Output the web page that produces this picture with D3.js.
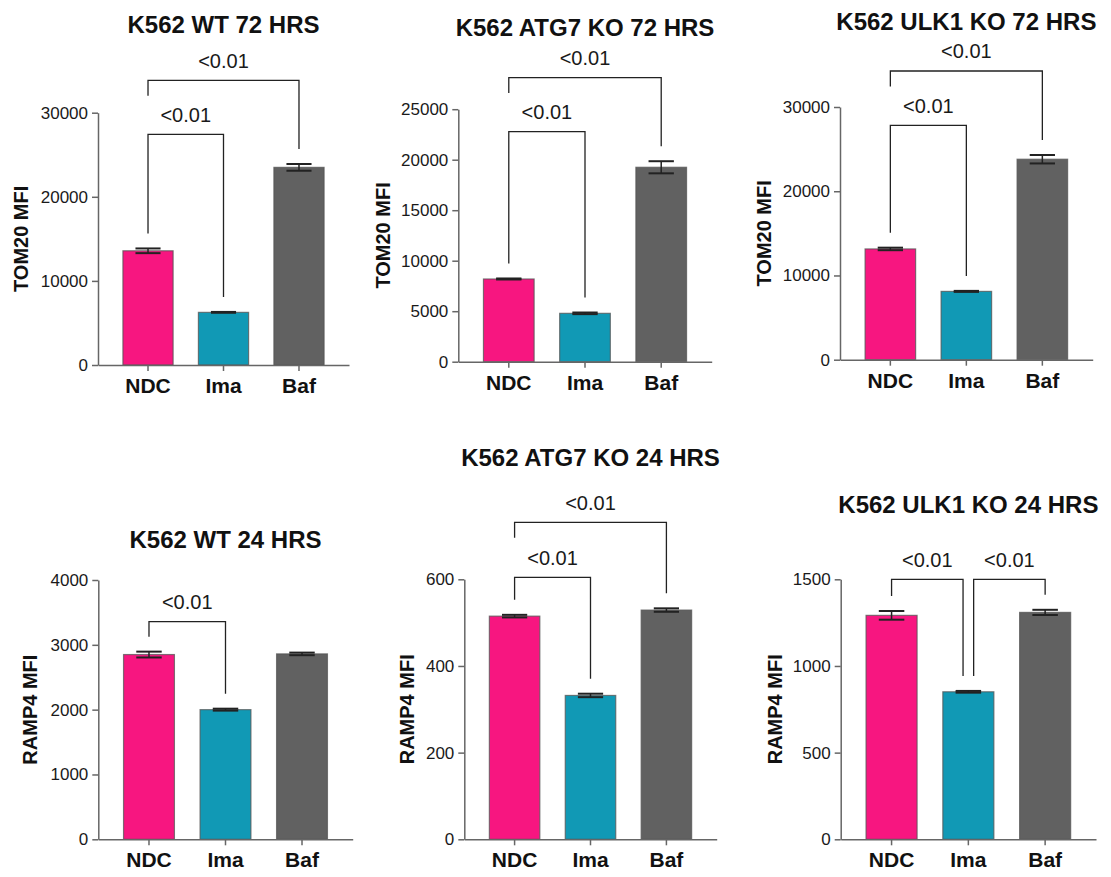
<!DOCTYPE html>
<html>
<head>
<meta charset="utf-8">
<script src="https://cdn.jsdelivr.net/npm/d3@7"></script>
<style>
  html, body { margin: 0; padding: 0; background: #fff; }
  svg { display: block; font-family: "Liberation Sans", Arial, Helvetica, sans-serif; }
</style>
</head>
<body>
<svg id="chart" width="1111" height="877"></svg>
<script>
// ---------------- DATA ----------------
const categories = ["NDC", "Ima", "Baf"];
const panelTitles = [
  "K562 WT 72 HRS", "K562 ATG7 KO 72 HRS", "K562 ULK1 KO 72 HRS",
  "K562 WT 24 HRS", "K562 ATG7 KO 24 HRS", "K562 ULK1 KO 24 HRS"
];
const yAxisLabels = ["TOM20 MFI", "TOM20 MFI", "TOM20 MFI", "RAMP4 MFI", "RAMP4 MFI", "RAMP4 MFI"];
const meanValues = [
  [13580, 6260, 23500],
  [8190, 4790, 19250],
  [13150, 8110, 23800],
  [2850, 2000, 2860],
  [515, 332, 529],
  [1292, 851, 1309]
];
const semValues = [
  [280, 50, 400],
  [50, 80, 600],
  [150, 60, 500],
  [45, 15, 20],
  [3, 4, 4],
  [25, 5, 15]
];
const yMaxValues = [30000, 25000, 30000, 4000, 600, 1500];
const yTickValues = [
  [0, 10000, 20000, 30000],
  [0, 5000, 10000, 15000, 20000, 25000],
  [0, 10000, 20000, 30000],
  [0, 1000, 2000, 3000, 4000],
  [0, 200, 400, 600],
  [0, 500, 1000, 1500]
];
const comparisons = [
  [{ a: 0, b: 1, p: "<0.01" }, { a: 0, b: 2, p: "<0.01" }],
  [{ a: 0, b: 1, p: "<0.01" }, { a: 0, b: 2, p: "<0.01" }],
  [{ a: 0, b: 1, p: "<0.01" }, { a: 0, b: 2, p: "<0.01" }],
  [{ a: 0, b: 1, p: "<0.01" }],
  [{ a: 0, b: 1, p: "<0.01" }, { a: 0, b: 2, p: "<0.01" }],
  [{ a: 0, b: 1, p: "<0.01" }, { a: 1, b: 2, p: "<0.01" }]
];

// ---------------- LAYOUT / STYLE ----------------
const barColors = ["#f71680", "#1199b5", "#616161"];
const layout = [
  { x0: 98,    x1: 349,    yTop: 112.7, yBot: 365,   titleY: 33.3,  ylabOff: 70,   brY: [134.3, 80.3] },
  { x0: 458.3, x1: 711.7,  yTop: 109.2, yBot: 361.7, titleY: 35.7,  ylabOff: 68.3, brY: [131.7, 77.7] },
  { x0: 840,   x1: 1092.7, yTop: 107,   yBot: 359.7, titleY: 30,    ylabOff: 69.3, brY: [125.3, 71] },
  { x0: 98.3,  x1: 352.7,  yTop: 580,   yBot: 839.3, titleY: 548.3, ylabOff: 61,   brY: [621.7] },
  { x0: 464.3, x1: 716.7,  yTop: 579.3, yBot: 839.3, titleY: 466,   ylabOff: 50.3, brY: [577.3, 522.3] },
  { x0: 840.7, x1: 1096,   yTop: 579.3, yBot: 839.3, titleY: 512.7, ylabOff: 59,   brY: [579.3, 579.3] }
];

const svg = d3.select("#chart");
svg.append("rect").attr("width", 1111).attr("height", 877).attr("fill", "#fff");

const axisColor = "#666";
const textColor = "#1a1a1a";

layout.forEach((L, pi) => {
  const g = svg.append("g");
  const x = d3.scaleBand().domain(categories).range([L.x0, L.x1])
    .paddingInner(0.335).paddingOuter(0.33);
  const y = d3.scaleLinear().domain([0, yMaxValues[pi]]).range([L.yBot, L.yTop]);
  const means = meanValues[pi], sems = semValues[pi];

  // bars
  g.selectAll("rect.bar").data(categories).enter().append("rect")
    .attr("class", "bar")
    .attr("x", d => x(d))
    .attr("width", x.bandwidth())
    .attr("y", (d, i) => y(means[i]))
    .attr("height", (d, i) => y(0) - y(means[i]))
    .attr("fill", (d, i) => barColors[i])
    .attr("stroke", "#555")
    .attr("stroke-opacity", 0.75)
    .attr("stroke-width", 1.2);

  // error bars
  const capW = x.bandwidth() * 0.5;
  categories.forEach((c, i) => {
    const cx = x(c) + x.bandwidth() / 2;
    const yt = y(means[i] + sems[i]), yb = y(means[i] - sems[i]);
    g.append("line").attr("x1", cx).attr("x2", cx).attr("y1", yt).attr("y2", yb)
      .attr("stroke", "#222").attr("stroke-width", 1.5);
    [yt, yb].forEach(yy => {
      g.append("line").attr("x1", cx - capW / 2).attr("x2", cx + capW / 2)
        .attr("y1", yy).attr("y2", yy)
        .attr("stroke", "#222").attr("stroke-width", 2);
    });
  });

  // axes
  const yAxis = d3.axisLeft(y).tickValues(yTickValues[pi]).tickSize(6).tickPadding(4)
    .tickSizeOuter(0).tickFormat(d3.format("d"));
  const ya = g.append("g").attr("transform", `translate(${L.x0},0)`).call(yAxis);
  ya.select(".domain").attr("stroke", axisColor).attr("stroke-width", 1.5);
  ya.selectAll(".tick line").attr("stroke", axisColor).attr("stroke-width", 1.5);
  ya.selectAll(".tick text").attr("fill", textColor).style("font-size", "17px");

  const xAxis = d3.axisBottom(x).tickSize(6).tickPadding(7).tickSizeOuter(0);
  const xa = g.append("g").attr("transform", `translate(0,${L.yBot})`).call(xAxis);
  xa.select(".domain").attr("stroke", axisColor).attr("stroke-width", 1.5);
  xa.selectAll(".tick line").attr("stroke", axisColor).attr("stroke-width", 1.5);
  xa.selectAll(".tick text").attr("fill", "#111").style("font-size", "21px").style("font-weight", "bold");

  // y-axis label
  const ymid = (L.yTop + L.yBot) / 2;
  g.append("text")
    .attr("transform", `translate(${L.x0 - L.ylabOff},${ymid}) rotate(-90)`)
    .attr("text-anchor", "middle")
    .attr("fill", "#111")
    .style("font-size", "20px").style("font-weight", "bold")
    .text(yAxisLabels[pi]);

  // title
  g.append("text")
    .attr("x", x(categories[1]) + x.bandwidth() / 2)
    .attr("y", L.titleY)
    .attr("text-anchor", "middle")
    .attr("fill", "#111")
    .style("font-size", "24px").style("font-weight", "bold")
    .text(panelTitles[pi]);

  // significance brackets
  const comps = comparisons[pi];
  comps.forEach((cmp, k) => {
    const by = L.brY[k];
    const legX = idx => {
      let cx = x(categories[idx]) + x.bandwidth() / 2;
      comps.forEach((o, j) => {
        if (j !== k && Math.abs(L.brY[j] - by) < 0.5) {
          if (idx === cmp.b && idx === o.a) cx -= 5.3;
          if (idx === cmp.a && idx === o.b) cx += 5.3;
        }
      });
      return cx;
    };
    const legEnd = idx => {
      let covered = false;
      comps.forEach((o, j) => {
        if (j !== k && L.brY[j] > by + 0.5 && idx >= o.a && idx <= o.b) covered = true;
      });
      if (covered) return by + 15.4;
      return y(means[idx] + sems[idx]) - 15;
    };
    const xa_ = legX(cmp.a), xb_ = legX(cmp.b);
    g.append("path")
      .attr("d", `M${xa_},${legEnd(cmp.a)}V${by}H${xb_}V${legEnd(cmp.b)}`)
      .attr("fill", "none").attr("stroke", "#222").attr("stroke-width", 1.3);
    g.append("text")
      .attr("x", (xa_ + xb_) / 2)
      .attr("y", by - 12.7)
      .attr("text-anchor", "middle")
      .attr("fill", textColor)
      .style("font-size", "20px")
      .text(cmp.p);
  });
});
</script>
</body>
</html>
